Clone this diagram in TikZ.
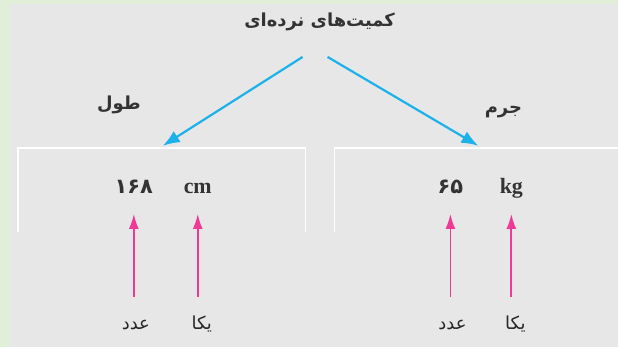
\documentclass[tikz,border=0pt]{standalone}
\usepackage{fontspec}
\setmainfont{Liberation Serif}
\newfontfamily\arabicfont[Script=Arabic]{DejaVu Sans}
\TeXXeTstate=1
\usetikzlibrary{arrows.meta}
\definecolor{stripgreen}{HTML}{E1EED8}
\definecolor{panelgray}{HTML}{E7E7E7}
\definecolor{skyarrow}{HTML}{1DB1E9}
\definecolor{pinkarrow}{HTML}{EE3A96}

\begin{document}
\begin{tikzpicture}[x=1bp,y=-1bp,
    fa/.style={font=\arabicfont\bfseries\fontsize{18}{20}\selectfont,text=black!80,inner sep=1pt},
    lab node/.style={font=\arabicfont\fontsize{18}{20}\selectfont,text=black!85,inner sep=1bp,text height=14bp,text depth=6bp},
    val node/.style={font=\arabicfont\bfseries\fontsize{21}{23}\selectfont,text=black!80,inner sep=1bp,text height=15bp,text depth=4bp},
    unit node/.style={font=\bfseries\fontsize{22}{24}\selectfont,text=black!80,inner sep=1bp,text height=15bp,text depth=4bp},
    box line/.style={white,line width=1.6bp},
    blue edge/.style={skyarrow,line width=2.2bp,-{Latex[length=17bp,width=13bp]}},
    pink edge/.style={pinkarrow,line width=1.8bp,-{Latex[length=15bp,width=10bp]},shorten <=17bp,shorten >=15.5bp}]

    % background
    \fill[stripgreen] (0,0) rectangle (619,347);
    \fill[panelgray] (10,4) rectangle (619,347);
    \draw[box line] (18,232) -- (18,148) -- (306,148) -- (306,232);
    \draw[box line] (335,232) -- (335,148) -- (619,148);

    \node[fa] (0) at (320,22) {\beginR کمیت‌های نرده‌ای\endR};
    \node[fa] (1) at (119,105) {\beginR طول\endR};
    \node[fa] (2) at (504,112) {\beginR جرم\endR};

    \node[val node] (3) at (134,188) {۱۶۸};
    \node[unit node] (4) at (198,188) {cm};
    \node[val node] (5) at (451,188) {۶۵};
    \node[unit node] (6) at (512,188) {kg};

    \node[lab node] (7) at (136,326) {\beginR عدد\endR};
    \node[lab node] (8) at (202,326) {\beginR یکا\endR};
    \node[lab node] (9) at (453,326) {\beginR عدد\endR};
    \node[lab node] (10) at (516,326) {\beginR یکا\endR};

    \coordinate (ls) at (303,57);
    \coordinate (rs) at (328,57);
    \coordinate (lt) at (163,146);
    \coordinate (rt) at (479,146);

    \path[blue edge]
        (ls) edge (lt)
        (rs) edge (rt)
        ;
    \path[pink edge]
        (7.north -| 3.south) edge (3.south)
        (8.north -| 4.south) edge (4.south)
        (9.north -| 5.south) edge (5.south)
        (10.north -| 6.south) edge (6.south)
        ;
\end{tikzpicture}
\end{document}
